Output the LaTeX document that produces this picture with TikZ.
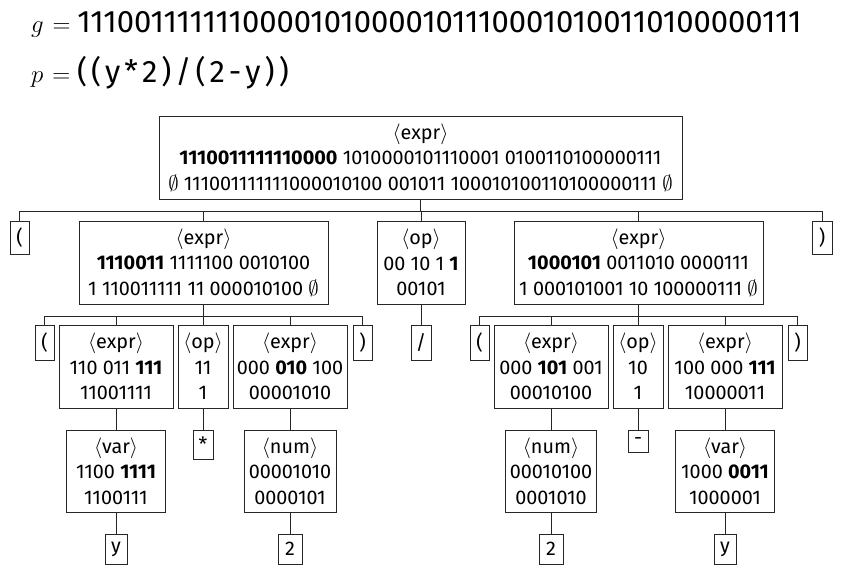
\documentclass[tikz,border=0pt]{standalone}
\usepackage{fontspec}
\setmainfont{Fira Sans}
\newcommand\tf{\fontsize{19.8}{25.5}\selectfont}
\newcommand\ttl{\fontsize{31}{36}\selectfont}
\newcommand\lb[1]{$\langle$#1$\rangle$}
\newcommand\es{$\emptyset$}
\newcommand\kk{\kern4pt}
\begin{document}
\begin{tikzpicture}[x=1pt,y=-1pt,
  bx/.style={draw=black!85, line width=0.8pt, inner sep=0pt, align=center, font=\tf},
  ln/.style={draw=black!85, line width=0.8pt},
  ttlnode/.style={anchor=base west, inner sep=0pt, font=\ttl}]
\useasboundingbox (0,0) rectangle (843,576);
% title
\node[ttlnode] (g) at (31,32) {$g\kern2pt={}$111001111111000010100001011100010100110100000111};
\node[ttlnode] (p) at (31,82) {$p\kern2pt={}$(\kk(\kk y\kk*\kk2\kk)\kk/\kk(\kk2\kk-\kk y\kk)\kk)};
% root
\node[bx, minimum width=523pt, minimum height=83pt] (root) at (420.5,157.5)
  {\lb{expr}\\ \textbf{1110011111110000} 1010000101110001 0100110100000111\\ \es{} 111001111111000010100 001011 100010100110100000111 \es};
% level 1
\node[bx, minimum width=19pt, minimum height=33pt] (lp1) at (19.5,237.5) {(};
\node[bx, minimum width=249pt, minimum height=83pt] (e1) at (203.5,262.5)
  {\lb{expr}\\ \textbf{1110011} 1111100 0010100\\ 1 110011111 11 000010100 \es};
\node[bx, minimum width=88pt, minimum height=83pt] (op1) at (421,262.5)
  {\lb{op}\\ 00 10 1 \textbf{1}\\ 00101};
\node[bx, minimum width=249pt, minimum height=83pt] (e2) at (638.5,262.5)
  {\lb{expr}\\ \textbf{1000101} 0011010 0000111\\ 1 000101001 10 100000111 \es};
\node[bx, minimum width=20pt, minimum height=33pt] (rp1) at (822,237.5) {)};
% level 2
\node[bx, minimum width=19pt, minimum height=35pt] (lp2) at (44.5,342.5) {(};
\node[bx, minimum width=114pt, minimum height=83pt] (e11) at (116,366.5)
  {\lb{expr}\\ 110 011 \textbf{111}\\ 11001111};
\node[bx, minimum width=50pt, minimum height=83pt] (op11) at (203,366.5)
  {\lb{op}\\ 11\\ 1};
\node[bx, minimum width=114pt, minimum height=83pt] (e12) at (290,366.5)
  {\lb{expr}\\ 000 \textbf{010} 100\\ 00001010};
\node[bx, minimum width=19pt, minimum height=35pt] (rp2) at (362.5,342.5) {)};
\node[bx, minimum width=20pt, minimum height=35pt] (sl) at (421,342.5) {/};
\node[bx, minimum width=19pt, minimum height=35pt] (lp3) at (479.5,342.5) {(};
\node[bx, minimum width=114pt, minimum height=83pt] (e21) at (551,366.5)
  {\lb{expr}\\ 000 \textbf{101} 001\\ 00010100};
\node[bx, minimum width=50pt, minimum height=83pt] (op21) at (638,366.5)
  {\lb{op}\\ 10\\ 1};
\node[bx, minimum width=114pt, minimum height=83pt] (e22) at (725,366.5)
  {\lb{expr}\\ 100 000 \textbf{111}\\ 10000011};
\node[bx, minimum width=19pt, minimum height=35pt] (rp3) at (797.5,342.5) {)};
% level 3
\node[bx, minimum width=99pt, minimum height=82pt] (v1) at (116,471)
  {\lb{var}\\ 1100 \textbf{1111}\\ 1100111};
\node[bx, minimum width=20pt, minimum height=29pt] (st) at (203,444.5) {*};
\node[bx, minimum width=92pt, minimum height=82pt] (n1) at (290,471)
  {\lb{num}\\ 00001010\\ 0000101};
\node[bx, minimum width=91pt, minimum height=82pt] (n2) at (551,471)
  {\lb{num}\\ 00010100\\ 0001010};
\node[bx, minimum width=20pt, minimum height=22pt] (mi) at (638,441) {-};
\node[bx, minimum width=99pt, minimum height=82pt] (v2) at (725,471)
  {\lb{var}\\ 1000 \textbf{0011}\\ 1000001};
% level 4
\node[bx, minimum width=22pt, minimum height=30pt] (y1) at (116,549) {y};
\node[bx, minimum width=24pt, minimum height=30pt] (t1) at (290,549) {2};
\node[bx, minimum width=24pt, minimum height=30pt] (t2) at (551,549) {2};
\node[bx, minimum width=22pt, minimum height=30pt] (y2) at (725,549) {y};
% bars
\coordinate (b0) at (0,211);
\coordinate (b1) at (0,316);
% connectors
\foreach \c in {lp1,e1,op1,e2,rp1}
  \draw[ln] (root.south) |- (\c.north |- b0) -- (\c.north);
\foreach \c in {lp2,e11,op11,e12,rp2}
  \draw[ln] (e1.south) |- (\c.north |- b1) -- (\c.north);
\foreach \c in {lp3,e21,op21,e22,rp3}
  \draw[ln] (e2.south) |- (\c.north |- b1) -- (\c.north);
\draw[ln] (op1.south) -- (op1.south |- sl.north);
\draw[ln] (e11.south) -- (e11.south |- v1.north);
\draw[ln] (op11.south) -- (op11.south |- st.north);
\draw[ln] (e12.south) -- (e12.south |- n1.north);
\draw[ln] (e21.south) -- (e21.south |- n2.north);
\draw[ln] (op21.south) -- (op21.south |- mi.north);
\draw[ln] (e22.south) -- (e22.south |- v2.north);
\draw[ln] (v1.south) -- (v1.south |- y1.north);
\draw[ln] (n1.south) -- (n1.south |- t1.north);
\draw[ln] (n2.south) -- (n2.south |- t2.north);
\draw[ln] (v2.south) -- (v2.south |- y2.north);
\end{tikzpicture}
\end{document}
